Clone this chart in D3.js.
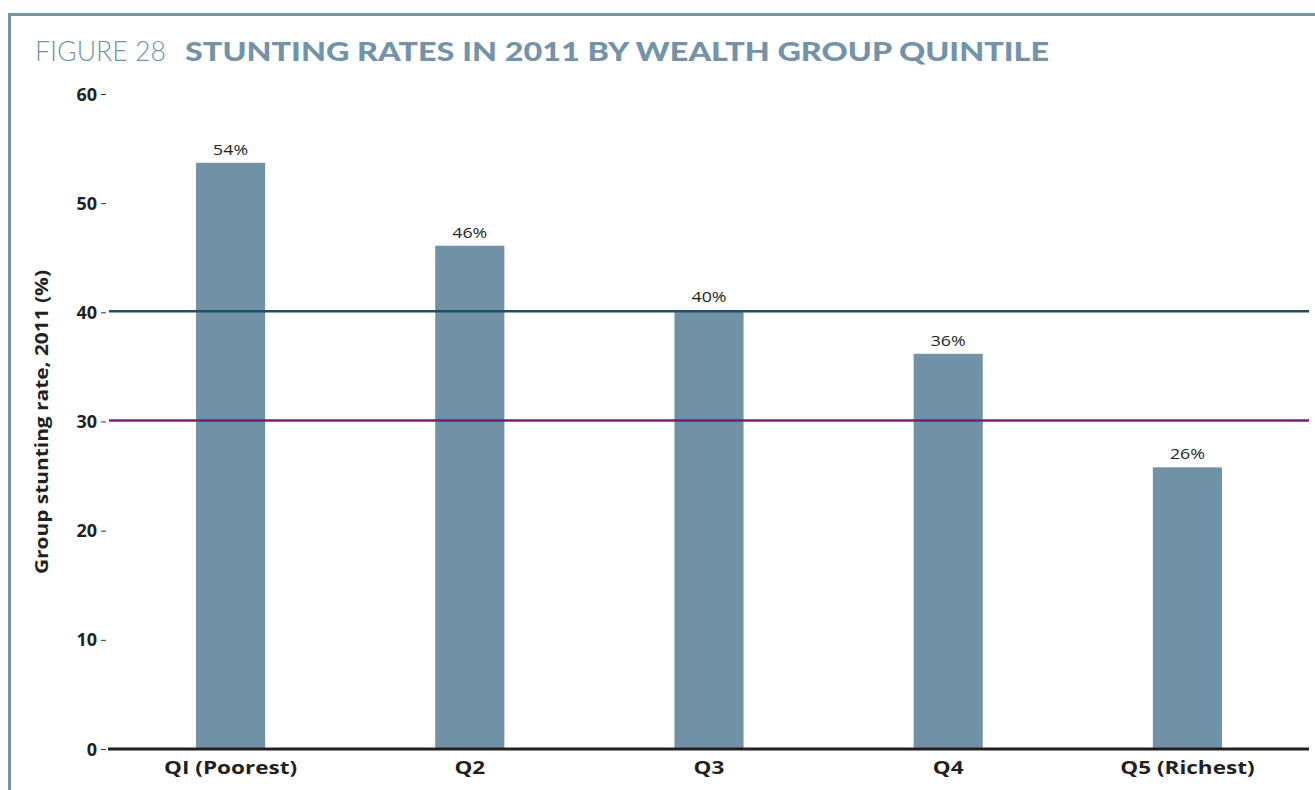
<!DOCTYPE html>
<html><head><meta charset="utf-8">
<script src="https://cdn.jsdelivr.net/npm/d3@7"></script>
<style>body{margin:0;background:#fff;}svg{display:block;}</style>
</head><body>
<svg id="c" width="1315" height="790"></svg>
<script>
const categories = ["QI (Poorest)", "Q2", "Q3", "Q4", "Q5 (Richest)"];
const values = [53.7, 46.1, 40.2, 36.2, 25.8];
const valueLabels = ["54%", "46%", "40%", "36%", "26%"];
const yTicks = [0, 10, 20, 30, 40, 50, 60];
const refLines = [{v: 40, color: "#1b4f66"}, {v: 30, color: "#7b1f72"}];

const svg = d3.select("#c");
const font = "'Open Sans', Lato, sans-serif";
const frame = "#7393a8";

// stretch text horizontally to a target width (keeps it real text)
function stretch(node, target) {
  d3.select(node).attr("textLength", target).attr("lengthAdjust", "spacingAndGlyphs");
}
function ratioStretch(node, ratio) {
  stretch(node, node.getComputedTextLength() * ratio);
}

// frame
svg.append("line").attr("x1", 9).attr("x2", 1315).attr("y1", 14.5).attr("y2", 14.5).attr("stroke", frame).attr("stroke-width", 3);
svg.append("line").attr("x1", 9.5).attr("x2", 9.5).attr("y1", 13).attr("y2", 790).attr("stroke", frame).attr("stroke-width", 3);

// title
const t1 = svg.append("text").attr("x", 35).attr("y", 61).attr("font-family", "Lato, sans-serif").attr("font-size", 27)
  .attr("font-weight", 300).attr("fill", frame).text("FIGURE 28");
stretch(t1.node(), 131);
const t2 = svg.append("text").attr("x", 185).attr("y", 61).attr("font-family", "Lato, sans-serif").attr("font-size", 27)
  .attr("font-weight", 900).attr("fill", frame).text("STUNTING RATES IN 2011 BY WEALTH GROUP QUINTILE");
stretch(t2.node(), 864);

const y = d3.scaleLinear().domain([0, 60]).range([749, 94]);
const x = d3.scaleBand().domain(categories).range([111, 1307]).paddingInner(0.711).paddingOuter(0.3555);

// y axis
const ya = svg.append("g").attr("transform", "translate(106,0)")
  .call(d3.axisLeft(y).tickValues(yTicks).tickSize(5).tickPadding(4));
ya.select(".domain").remove();
ya.selectAll(".tick line").attr("stroke", "#333").attr("stroke-width", 1);
ya.selectAll(".tick text").attr("font-family", font).attr("font-weight", 700).attr("font-size", 18).attr("fill", "#231f20").attr("dy", "0.34em");

// axis label
const yl = svg.append("text").attr("transform", "translate(48,422) rotate(-90)").attr("text-anchor", "middle")
  .attr("font-family", font).attr("font-weight", 700).attr("font-size", 17).attr("fill", "#231f20")
  .text("Group stunting rate, 2011 (%)");
stretch(yl.node(), 304);

// bars
svg.selectAll("rect.bar").data(values).join("rect").attr("class", "bar")
  .attr("x", (d, i) => x(categories[i])).attr("width", x.bandwidth())
  .attr("y", d => y(d)).attr("height", d => y(0) - y(d)).attr("fill", "#7191a6");

// value labels
svg.selectAll("text.vl").data(values).join("text").attr("class", "vl")
  .attr("x", (d, i) => x(categories[i]) + x.bandwidth() / 2).attr("y", d => y(d) - 8)
  .attr("text-anchor", "middle").attr("font-family", font).attr("font-size", 15).attr("fill", "#231f20")
  .text((d, i) => valueLabels[i])
  .each(function() { stretch(this, 35); });

// reference lines
svg.selectAll("line.ref").data(refLines).join("line").attr("class", "ref")
  .attr("x1", 109).attr("x2", 1309).attr("y1", d => y(d.v) - 1).attr("y2", d => y(d.v) - 1)
  .attr("stroke", d => d.color).attr("stroke-width", 2.5);

// x axis
const xa = svg.append("g").attr("transform", "translate(0,749)")
  .call(d3.axisBottom(x).tickSize(0).tickPadding(12));
xa.select(".domain").attr("d", "M108,0H1309").attr("stroke", "#231f20").attr("stroke-width", 3);
const xt = xa.selectAll(".tick text").attr("font-family", font).attr("font-weight", 700).attr("font-size", 18).attr("fill", "#231f20");
const ratio = 133 / xt.nodes()[0].getComputedTextLength();
xt.each(function() { ratioStretch(this, ratio); });
</script>
</body></html>
